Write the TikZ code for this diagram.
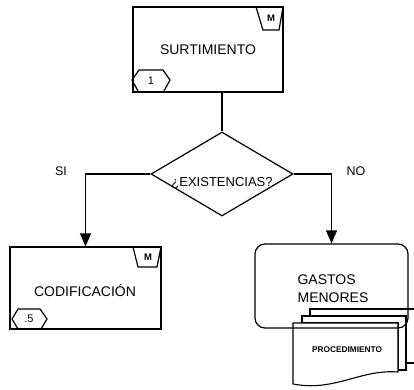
\documentclass[tikz,border=0pt]{standalone}
\usepackage{fontspec}
\setmainfont{Liberation Sans}
\usetikzlibrary{arrows.meta,shapes.geometric}
\begin{document}
\begin{tikzpicture}[x=1pt,y=-1pt,line width=1.2pt,
  procbox/.style={draw,rectangle,inner sep=0pt,font=\fontsize{14}{16}\selectfont},
  decis/.style={draw,diamond,inner sep=0pt,minimum width=142pt,minimum height=84pt},
  lbl/.style={font=\fontsize{12.5}{14}\selectfont,inner sep=0pt},
  tabtxt/.style={font=\bfseries\fontsize{9.5}{10}\selectfont,inner sep=0pt},
  hextxt/.style={font=\fontsize{11}{12}\selectfont,inner sep=0pt},
  sheet/.style={draw,fill=white,line width=1.1pt},
  arr/.style={-{Triangle[length=13pt,width=11pt]}}]
\useasboundingbox[fill=white] (0,0) rectangle (414,389);

% top process box
\node[procbox,minimum width=150pt,minimum height=85pt] (surt) at (208,49.5) {SURTIMIENTO};
\draw (256,7) -- (263,30) -- (279,30) -- (283,7);
\node[tabtxt] (m1) at (271,18.5) {M};
\draw (138,91) -- (132,80) -- (139,70) -- (163,70) -- (170,80) -- (164,91);
\node[hextxt] (n1) at (151,81) {1};

% decision
\node[decis] (dia) at (222,174) {};
\node[font=\fontsize{13}{15}\selectfont,inner sep=0pt] (diat) at (222,183) {¿EXISTENCIAS?};
\draw (dia.north |- surt.south) -- (dia.north);

% left box
\node[procbox,minimum width=151pt,minimum height=82pt] (cod) at (85.5,288) {};
\node[font=\fontsize{14}{16}\selectfont,inner sep=0pt] (codt) at (85,290) {CODIFICACIÓN};
\draw (133,247) -- (138,267) -- (157,267) -- (161,247);
\node[tabtxt] (m2) at (148,257) {M};
\draw (18,329) -- (12,319) -- (18,309) -- (40,309) -- (47,319) -- (41,329);
\node[hextxt] (n5) at (29,319) {.5};

% document stack
\draw[sheet] (310,323) -- (310,309) -- (416,309) -- (416,363) -- (406,363);
\draw[sheet] (406,316) -- (406,370) -- (398,370) -- (398,323) -- (302,323) -- (302,316) -- cycle;
\draw[sheet] (293,323) -- (398,323) -- (398,372) .. controls (360,369) and (335,392) .. (293,384) -- cycle;
\node[font=\bfseries\fontsize{8.3}{9}\selectfont,inner sep=0pt] (proc) at (347,350) {PROCEDIMIENTO};

% right rounded box
\node[draw,rounded corners=10pt,minimum width=153pt,minimum height=84pt,inner sep=0pt] (gas) at (331.5,286) {};
\node[font=\fontsize{14}{18}\selectfont,align=left,inner sep=0pt,anchor=west] (gast) at (297,289) {GASTOS\\MENORES};

% connectors
\draw[arr] (dia.west) -| (cod.north);
\draw[arr] (dia.east) -| (gas.north);
\node[lbl] (si) at (61,171) {SI};
\node[lbl] (no) at (356,171) {NO};
\end{tikzpicture}
\end{document}
